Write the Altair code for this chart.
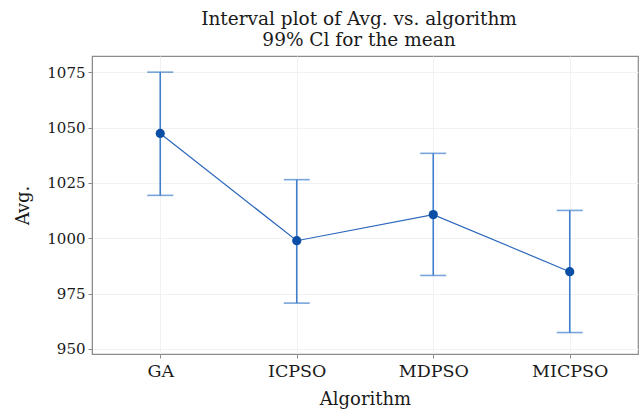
import altair as alt
import pandas as pd

algorithms = ["GA", "ICPSO", "MDPSO", "MICPSO"]
means = [1047.4, 998.9, 1010.7, 984.9]
lowers = [1019.4, 970.7, 983.2, 957.4]
uppers = [1075.1, 1026.5, 1038.4, 1012.6]
y_ticks = [950, 975, 1000, 1025, 1050, 1075]

df = pd.DataFrame({"algorithm": algorithms, "mean": means, "lower": lowers, "upper": uppers})

FONT = "DejaVu Serif"
BAR = "#3f7fcc"
LINE = "#2a66bb"
PT = "#0a4ea6"
TXT = "#1a1a1a"

x = alt.X("algorithm:N", sort=algorithms, title="Algorithm",
          scale=alt.Scale(type="point", padding=0.5),
          axis=alt.Axis(labelAngle=0, grid=True, gridColor="#f1f1f1", tickSize=4,
                        labelPadding=4, titlePadding=11, labelFontSize=17.5, titleFontSize=18,
                        labelFont=FONT, titleFont=FONT, labelColor=TXT, titleColor=TXT,
                        titleFontWeight="normal", domainColor="#8c8c8c", tickColor="#8c8c8c"))
yscale = alt.Scale(domain=[947.7, 1082.4], nice=False, zero=False)
yaxis = alt.Axis(values=y_ticks, format="d", grid=True, gridColor="#f1f1f1", tickSize=4, labelPadding=3,
                 titlePadding=14, labelFontSize=15, titleFontSize=18, labelFont=FONT, titleFont=FONT,
                 labelColor=TXT, titleColor=TXT, titleFontWeight="normal",
                 domainColor="#8c8c8c", tickColor="#8c8c8c")

base = alt.Chart(df)
rule = base.mark_rule(color=BAR, strokeWidth=1.6).encode(
    x=x, y=alt.Y("lower:Q", scale=yscale, axis=yaxis, title="Avg."), y2="upper:Q")
cap_lo = base.mark_tick(color=BAR, size=26, thickness=1.6, orient="horizontal").encode(x=x, y=alt.Y("lower:Q", scale=yscale))
cap_hi = base.mark_tick(color=BAR, size=26, thickness=1.6, orient="horizontal").encode(x=x, y=alt.Y("upper:Q", scale=yscale))
line = base.mark_line(color=LINE, strokeWidth=1.2).encode(x=x, y=alt.Y("mean:Q", scale=yscale))
pts = base.mark_point(filled=True, color=PT, size=85, opacity=1).encode(x=x, y=alt.Y("mean:Q", scale=yscale))

chart = alt.layer(rule, cap_lo, cap_hi, line, pts).properties(
    width=546, height=298,
    autosize=alt.AutoSizeParams(type="none"),
    padding={"left": 92, "top": 56, "right": 1, "bottom": 56},
    title=alt.TitleParams(text=["Interval plot of Avg. vs. algorithm", "99% Cl for the mean"],
                          font=FONT, fontSize=18.5, fontWeight="normal", color=TXT,
                          anchor="middle", offset=7, lineHeight=21, dx=-6),
).configure_view(stroke="#8c8c8c", strokeWidth=1.2)

chart.save("out.html", embed_options={"renderer": "svg", "actions": False})
